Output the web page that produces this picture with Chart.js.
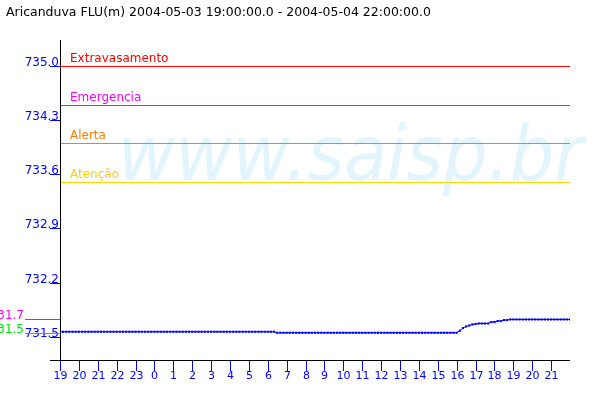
<!DOCTYPE html>
<html>
<head>
<meta charset="utf-8">
<script src="https://cdn.jsdelivr.net/npm/chart.js@4"></script>
<style>
  html, body { margin: 0; padding: 0; background: #fff; }
</style>
</head>
<body>
<canvas id="grafico" width="600" height="400"></canvas>
<script>
const titulo = 'Aricanduva FLU(m) 2004-05-03 19:00:00.0 - 2004-05-04 22:00:00.0';
const marcaDagua = 'www.saisp.br';

// rótulos do eixo x: horas a partir das 19:00 do dia 03
const horas = [19, 20, 21, 22, 23, 0, 1, 2, 3, 4, 5, 6, 7, 8, 9, 10, 11, 12, 13, 14, 15, 16, 17, 18, 19, 20, 21];
const ticksNivel = [731.5, 732.2, 732.9, 733.6, 734.3, 735.0];

// cotas de referência
const limites = [735.0, 734.5, 734.0, 733.5];
const nomesLimites = ['Extravasamento', 'Emergencia', 'Alerta', 'Atenção'];
const coresLimites = ['#ff0000', '#ff00ff', '#ff8000', '#ffd200'];

// leituras a cada 10 minutos (uma linha por hora)
const passoMin = 10;
const nivel = [
    731.565, 731.565, 731.565, 731.565, 731.565, 731.565, // 19h
    731.565, 731.565, 731.565, 731.565, 731.565, 731.565, // 20h
    731.565, 731.565, 731.565, 731.565, 731.565, 731.565, // 21h
    731.565, 731.565, 731.565, 731.565, 731.565, 731.565, // 22h
    731.565, 731.565, 731.565, 731.565, 731.565, 731.565, // 23h
    731.565, 731.565, 731.565, 731.565, 731.565, 731.565, // 0h
    731.565, 731.565, 731.565, 731.565, 731.565, 731.565, // 1h
    731.565, 731.565, 731.565, 731.565, 731.565, 731.565, // 2h
    731.565, 731.565, 731.565, 731.565, 731.565, 731.565, // 3h
    731.565, 731.565, 731.565, 731.565, 731.565, 731.565, // 4h
    731.565, 731.565, 731.565, 731.565, 731.565, 731.565, // 5h
    731.565, 731.565, 731.565, 731.552, 731.552, 731.552, // 6h
    731.552, 731.552, 731.552, 731.552, 731.552, 731.552, // 7h
    731.552, 731.552, 731.552, 731.552, 731.552, 731.552, // 8h
    731.552, 731.552, 731.552, 731.552, 731.552, 731.552, // 9h
    731.552, 731.552, 731.552, 731.552, 731.552, 731.552, // 10h
    731.552, 731.552, 731.552, 731.552, 731.552, 731.552, // 11h
    731.552, 731.552, 731.552, 731.552, 731.552, 731.552, // 12h
    731.552, 731.552, 731.552, 731.552, 731.552, 731.552, // 13h
    731.552, 731.552, 731.552, 731.552, 731.552, 731.552, // 14h
    731.552, 731.552, 731.552, 731.552, 731.552, 731.552, // 15h
    731.552, 731.578, 731.613, 731.633, 731.646, 731.659, // 16h
    731.665, 731.672, 731.672, 731.672, 731.672, 731.690, // 17h
    731.690, 731.703, 731.703, 731.716, 731.716, 731.724, // 18h
    731.724, 731.724, 731.724, 731.724, 731.724, 731.724, // 19h
    731.724, 731.724, 731.724, 731.724, 731.724, 731.724, // 20h
    731.724, 731.724, 731.724, 731.724, 731.724, 731.724, // 21h
    731.724                                               // 22h
];

const azul = '#0000ff';
const fonte = '"DejaVu Sans", sans-serif';

const pontos = nivel.map((v, i) => ({ x: i * passoMin / 60, y: v }));

// desenha marca d'água, cotas, eixos, rótulos e título
const desenho = {
    id: 'desenho',
    beforeDatasetsDraw(chart) {
        const { ctx, chartArea: a } = chart;
        const ys = chart.scales.y;
        ctx.save();
        ctx.font = 'italic 76px ' + fonte;
        const w = ctx.measureText(marcaDagua).width;
        ctx.save();
        ctx.translate(118, 180);
        ctx.scale(465 / w, 1);
        ctx.fillStyle = '#e2f4fc';
        ctx.textBaseline = 'alphabetic';
        ctx.fillText(marcaDagua, 0, 0);
        ctx.restore();

        // linhas das cotas, com pixel inteiro para ficarem nítidas
        ctx.lineWidth = 1;
        limites.forEach((v, k) => {
            const y = Math.round(ys.getPixelForValue(v)) + 0.5;
            ctx.strokeStyle = coresLimites[k];
            ctx.beginPath();
            ctx.moveTo(a.left, y);
            ctx.lineTo(a.right, y);
            ctx.stroke();
        });
        ctx.restore();
    },
    afterDatasetsDraw(chart) {
        const { ctx, chartArea: a } = chart;
        const xs = chart.scales.x, ys = chart.scales.y;
        ctx.save();

        // eixos
        ctx.strokeStyle = '#000';
        ctx.lineWidth = 1;
        ctx.beginPath();
        ctx.moveTo(a.left + 0.5, a.top);
        ctx.lineTo(a.left + 0.5, a.bottom + 0.5);
        ctx.moveTo(a.left - 10, a.bottom + 0.5);
        ctx.lineTo(a.right, a.bottom + 0.5);
        ctx.stroke();

        // marcas e rótulos do eixo y
        ctx.strokeStyle = azul;
        ctx.fillStyle = azul;
        ctx.font = '12px ' + fonte;
        ctx.textAlign = 'right';
        ctx.textBaseline = 'alphabetic';
        ticksNivel.forEach(v => {
            const y = Math.round(ys.getPixelForValue(v)) + 0.5;
            ctx.beginPath();
            ctx.moveTo(a.left - 10, y);
            ctx.lineTo(a.left, y);
            ctx.stroke();
            ctx.fillText(v.toFixed(1), a.left - 1, y - 1);
        });

        // marcas e rótulos do eixo x
        ctx.font = '11px ' + fonte;
        ctx.textAlign = 'center';
        ctx.textBaseline = 'top';
        horas.forEach((h, k) => {
            const x = Math.round(xs.getPixelForValue(k)) + 0.5;
            ctx.beginPath();
            ctx.moveTo(x, a.bottom + 1);
            ctx.lineTo(x, a.bottom + 11);
            ctx.stroke();
            ctx.fillText(String(h), x, a.bottom + 11);
        });

        // nomes das cotas de referência
        ctx.font = '12px ' + fonte;
        ctx.textAlign = 'left';
        ctx.textBaseline = 'alphabetic';
        limites.forEach((v, k) => {
            ctx.fillStyle = coresLimites[k];
            ctx.fillText(nomesLimites[k], a.left + 10, Math.round(ys.getPixelForValue(v)) - 4);
        });

        // máximo e mínimo do período, à esquerda do eixo
        const extremos = [[Math.max(...nivel), '#ff00ff'], [Math.min(...nivel), '#00e000']];
        ctx.textAlign = 'right';
        extremos.forEach(([v, cor]) => {
            const y = Math.round(ys.getPixelForValue(v)) + 0.5;
            ctx.strokeStyle = cor;
            ctx.fillStyle = cor;
            ctx.beginPath();
            ctx.moveTo(25, y);
            ctx.lineTo(a.left, y);
            ctx.stroke();
            ctx.fillText((Math.floor(v * 10) / 10).toFixed(1), 24, y - 1);
        });

        // título
        ctx.fillStyle = '#000';
        ctx.textAlign = 'left';
        ctx.font = '12.5px ' + fonte;
        ctx.fillText(titulo, 6, 16);
        ctx.restore();
    }
};

new Chart(document.getElementById('grafico'), {
    type: 'line',
    data: {
        datasets: [{
            data: pontos,
            borderColor: azul,
            borderWidth: 1,
            pointStyle: 'rect',
            pointRadius: 1.5,
            pointBorderWidth: 0,
            pointBackgroundColor: azul
        }]
    },
    options: {
        responsive: false,
        animation: false,
        layout: { padding: { left: 60, top: 40, right: 30, bottom: 40 } },
        plugins: {
            legend: { display: false },
            tooltip: { enabled: false }
        },
        scales: {
            x: { type: 'linear', min: 0, max: horas.length, display: false },
            y: { min: 731.2, max: 735.336, display: false }
        }
    },
    plugins: [desenho]
});
</script>
</body>
</html>
